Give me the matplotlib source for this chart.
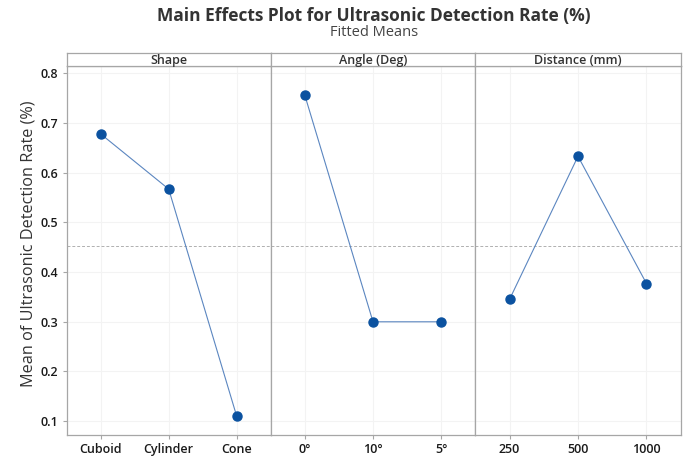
import matplotlib
matplotlib.use("Agg")
import matplotlib.pyplot as plt
import numpy as np

plt.rcParams['font.family'] = ['Open Sans', 'DejaVu Sans']

title = "Main Effects Plot for Ultrasonic Detection Rate (%)"
subtitle = "Fitted Means"
ylabel = "Mean of Ultrasonic Detection Rate (%)"

factors = ["Shape", "Angle (Deg)", "Distance (mm)"]
shape_levels = ["Cuboid", "Cylinder", "Cone"]
shape_means = [0.678, 0.567, 0.110]
angle_levels = ["0°", "10°", "5°"]
angle_means = [0.756, 0.300, 0.300]
distance_levels = ["250", "500", "1000"]
distance_means = [0.345, 0.633, 0.377]
overall_mean = 0.452

levels = [shape_levels, angle_levels, distance_levels]
means = [shape_means, angle_means, distance_means]

W, H = 695, 462
fig = plt.figure(figsize=(W / 100, H / 100), dpi=100)

edges = [66.7, 270.7, 475.3, 680.7]
ax_bottom, ax_top, strip_top = 435, 66, 53
ylim = (0.0722, 0.8147)
yticks = [0.1, 0.2, 0.3, 0.4, 0.5, 0.6, 0.7, 0.8]
spine_col = "#a6a6a6"
marker_col = "#0b52a0"
line_col = "#5b86c0"
grid_col = "#f3f3f3"

axes = []
for i in range(3):
    l = edges[i] / W
    w = (edges[i + 1] - edges[i]) / W
    b = 1 - ax_bottom / H
    h = (ax_bottom - ax_top) / H
    ax = fig.add_axes([l, b, w, h])
    x = np.arange(len(levels[i]))
    ax.set_xlim(-0.5, 2.5)
    ax.set_ylim(*ylim)
    ax.set_yticks(yticks)
    for yv in yticks:
        ax.axhline(yv, color=grid_col, lw=0.8, zorder=0)
    for xv in x:
        ax.axvline(xv, color=grid_col, lw=0.8, zorder=0)
    ax.axhline(overall_mean, color="#b0b0b0", lw=0.7, ls=(0, (3, 2)), zorder=1)
    ax.plot(x, means[i], color=line_col, lw=0.8, zorder=2)
    ax.plot(x, means[i], 'o', color=marker_col, ms=6.5, zorder=3)
    ax.set_xticks(x)
    ax.set_xticklabels(levels[i], fontsize=9, fontweight='semibold', color="#1a1a1a")
    ax.tick_params(axis='x', length=3, color=spine_col, pad=3)
    if i == 0:
        ax.set_yticklabels([f"{v:.1f}" for v in yticks], fontsize=9, fontweight='semibold', color="#1a1a1a")
        ax.tick_params(axis='y', length=3, color=spine_col, pad=3)
    else:
        ax.tick_params(axis='y', left=False, labelleft=False)
    for s in ax.spines.values():
        s.set_color(spine_col)
        s.set_linewidth(0.9)
    axes.append(ax)

    # header strip
    sax = fig.add_axes([l, 1 - ax_top / H, w, (ax_top - strip_top) / H])
    sax.set_xticks([])
    sax.set_yticks([])
    for s in sax.spines.values():
        s.set_color(spine_col)
        s.set_linewidth(0.9)
    sax.text(0.5, 0.45, factors[i], ha='center', va='center', fontsize=9,
             fontweight='semibold', color="#333333", transform=sax.transAxes)

fig.text(29 / W, 1 - 244 / H, ylabel, rotation=90, ha='center', va='center',
         fontsize=11.7, color="#333333")

cx = (edges[0] + edges[3]) / 2 / W
fig.text(cx, 1 - 16 / H, title, ha='center', va='center', fontsize=12.5,
         fontweight='bold', color="#333333")
fig.text(cx, 1 - 33 / H, subtitle, ha='center', va='center', fontsize=10.5,
         color="#444444")

fig.savefig("out.png", dpi=100)
